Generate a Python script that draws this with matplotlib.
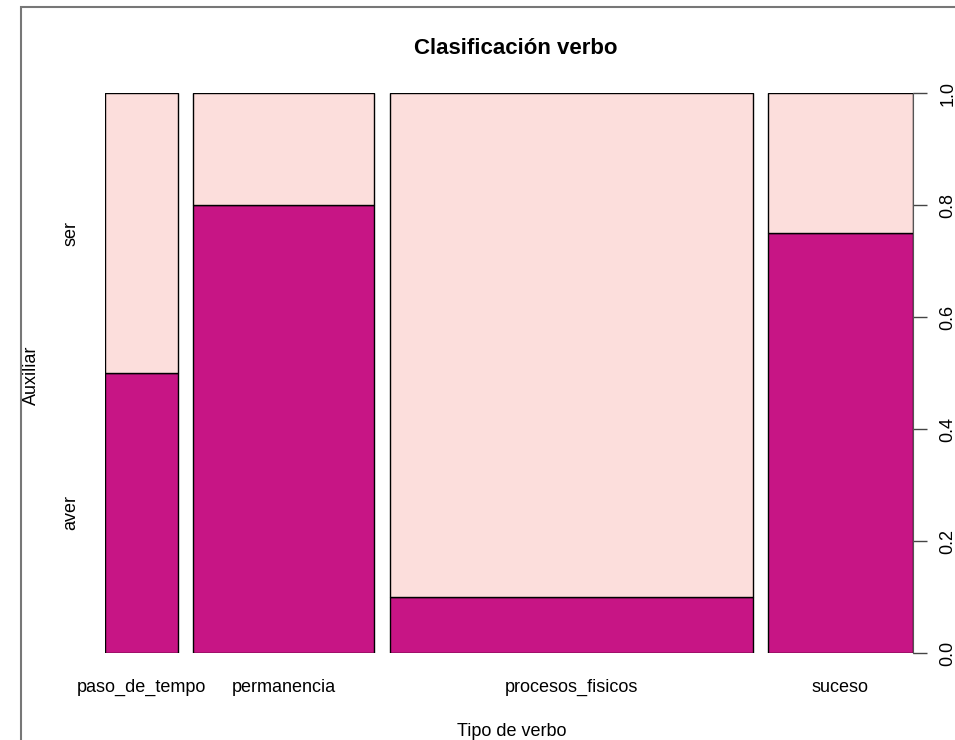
import matplotlib
matplotlib.use("Agg")
import matplotlib.pyplot as plt
from matplotlib.patches import Rectangle
import numpy as np

plt.rcParams['font.family'] = ['Liberation Sans', 'DejaVu Sans']

categories = ["paso_de_tempo", "permanencia", "procesos_fisicos", "suceso"]
counts = [2, 5, 10, 4]
share_aver = [0.5, 0.8, 0.1, 0.75]
levels = ["aver", "ser"]
yticks = [0.0, 0.2, 0.4, 0.6, 0.8, 1.0]

col_aver = "#C71585"
col_ser = "#FCDEDC"
gap = 0.02
fs = 13

W, H = 955, 740
fig = plt.figure(figsize=(W / 100, H / 100), dpi=100)
fig.patches.append(Rectangle((21 / W, -0.1), 1.2, 1.1 - 7 / H, transform=fig.transFigure,
                             fill=False, edgecolor="#777777", linewidth=1.5))

ax = fig.add_axes([105 / W, (H - 653) / H, (913 - 105) / W, (653 - 93) / H])

widths = np.array(counts) / np.sum(counts)
lefts = np.concatenate([[0], np.cumsum(widths[:-1])]) + gap * np.arange(len(counts))
ax.bar(lefts, share_aver, width=widths, align="edge", color=col_aver,
       edgecolor="black", linewidth=1)
ax.bar(lefts, 1 - np.array(share_aver), bottom=share_aver, width=widths, align="edge",
       color=col_ser, edgecolor="black", linewidth=1)

ax.set_xlim(0, 1 + gap * (len(counts) - 1))
ax.set_ylim(0, 1)
for s in ["left", "top", "bottom"]:
    ax.spines[s].set_visible(False)
ax.spines["right"].set_color("#555555")
ax.set_xticks([])
ax.yaxis.tick_right()
ax.set_yticks(yticks)
ax.set_yticklabels([f"{t:.1f}" for t in yticks], rotation=90, va="center", fontsize=fs)
ax.tick_params(axis="y", length=10, width=1, color="#444444", pad=9)

for l, w, c in zip(lefts, widths, categories):
    ax.text(l + w / 2, -0.062, c, ha="center", va="center", fontsize=fs)

first = share_aver[0]
for lab, y in zip(levels, [first / 2, first + (1 - first) / 2]):
    ax.text(-0.042, y, lab, rotation=90, ha="center", va="center", fontsize=fs,
            transform=ax.get_yaxis_transform())

fig.text(31 / W, 1 - 375 / H, "Auxiliar", rotation=90, ha="center", va="center", fontsize=fs)
fig.text(512 / W, 1 - 731 / H, "Tipo de verbo", ha="center", va="center", fontsize=fs)
fig.text(516 / W, 1 - 48 / H, "Clasificación verbo", ha="center", va="center",
         fontsize=16, fontweight="bold")

fig.savefig("out.png", dpi=100, facecolor="white")
